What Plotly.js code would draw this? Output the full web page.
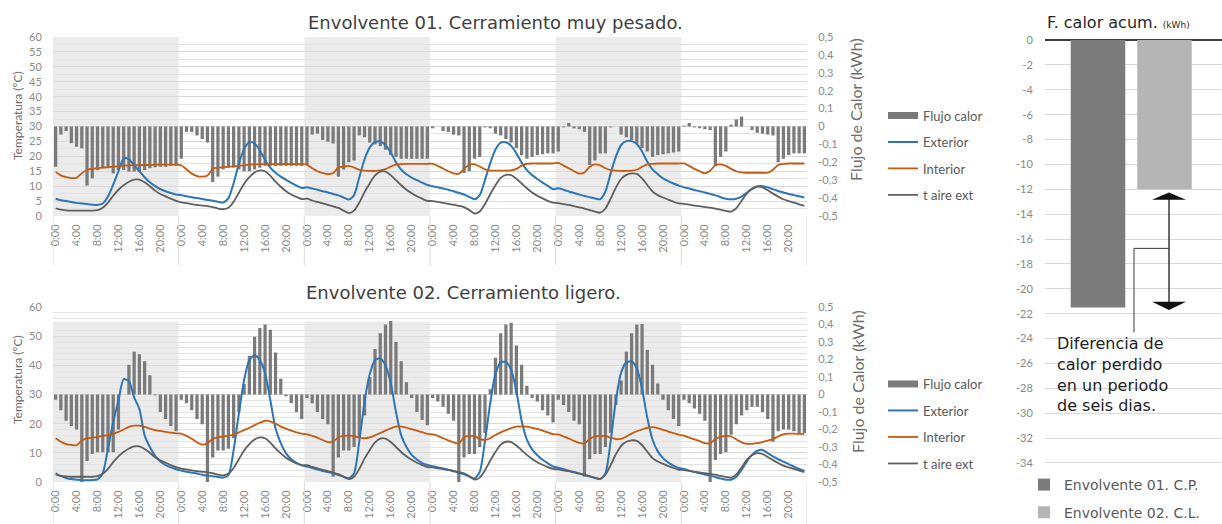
<!DOCTYPE html>
<html>
<head>
<meta charset="utf-8">
<script src="https://cdn.plot.ly/plotly-3.0.1.min.js"></script>
<style>
html,body{margin:0;padding:0;background:#fff;}
#chart{width:1222px;height:524px;}
</style>
</head>
<body>
<div id="chart"></div>
<script>
// ---------------- DATA ----------------
const hours = ["0:00","1:00","2:00","3:00","4:00","5:00","6:00","7:00","8:00","9:00","10:00","11:00",
               "12:00","13:00","14:00","15:00","16:00","17:00","18:00","19:00","20:00","21:00","22:00","23:00"];
const nDays = 6;
const categories = [].concat(hours, hours, hours, hours, hours, hours);

// Envolvente 01 - heat flow (kWh), hourly, 6 days
const flujo01 = [
 -0.225,-0.045,-0.025,-0.093,-0.113,-0.122,-0.33,-0.29,-0.243,-0.233,-0.233,-0.262,-0.243,-0.243,-0.252,-0.252,-0.252,-0.243,-0.233,-0.228,-0.225,-0.225,-0.22,-0.22,
 -0.18,-0.03,-0.03,-0.05,-0.07,-0.09,-0.31,-0.28,-0.24,-0.23,-0.23,-0.24,-0.25,-0.25,-0.24,-0.23,-0.22,-0.22,-0.22,-0.22,-0.22,-0.22,-0.22,-0.22,
 -0.21,-0.045,-0.04,-0.075,-0.085,-0.095,-0.28,-0.24,-0.2,-0.19,-0.05,-0.06,-0.09,-0.10,-0.11,-0.13,-0.16,-0.17,-0.18,-0.18,-0.18,-0.18,-0.18,-0.18,
 -0.01,0.0,-0.025,-0.03,-0.045,-0.05,-0.26,-0.25,-0.18,-0.17,-0.005,-0.01,-0.04,-0.05,-0.07,-0.09,-0.12,-0.16,-0.18,-0.17,-0.16,-0.155,-0.15,-0.15,
 -0.14,-0.005,0.02,-0.01,-0.015,-0.03,-0.215,-0.19,-0.15,-0.15,-0.005,0.0,-0.045,-0.06,-0.075,-0.095,-0.12,-0.14,-0.17,-0.16,-0.155,-0.15,-0.145,-0.14,
 0.005,0.02,-0.005,-0.01,-0.015,-0.02,-0.22,-0.17,-0.14,0.01,0.04,0.055,0.0,-0.02,-0.035,-0.04,-0.045,-0.05,-0.2,-0.18,-0.16,-0.15,-0.15,-0.15
];
const exterior01 = [
 5.8,5.3,5.0,4.7,4.4,4.2,4.0,3.8,3.7,4.2,6.5,10.5,15.0,19.3,19.0,17.0,15.0,13.0,11.3,10.0,9.0,8.3,7.7,7.2,
 7.0,6.6,6.3,6.0,5.7,5.4,5.1,4.8,4.5,6.0,11.0,17.5,22.5,24.7,24.3,22.0,18.8,16.2,14.5,13.2,12.1,11.1,10.2,9.4,
 9.6,9.2,8.8,8.3,7.9,7.4,6.9,6.2,5.5,7.0,13.0,19.0,23.0,24.8,25.0,23.8,21.3,18.0,15.5,14.0,12.9,12.0,11.2,10.4,
 10.0,9.6,9.2,8.8,8.3,7.8,7.2,6.4,5.6,7.0,12.1,17.7,22.3,24.6,24.7,23.5,21.0,17.9,15.4,13.7,12.4,11.2,10.1,9.0,
 9.3,8.8,8.2,7.7,7.2,6.7,6.3,5.9,5.6,8.2,14.3,19.9,23.8,25.1,25.1,24.1,21.6,18.2,15.6,14.0,12.6,11.7,10.9,10.2,
 9.6,9.2,8.7,8.3,7.9,7.4,6.9,6.3,5.8,5.6,5.8,6.5,7.8,9.0,9.9,10.0,9.6,9.0,8.4,7.9,7.4,7.0,6.6,6.2
];
const interior01 = [
 14.8,13.6,13.0,12.7,12.8,14.3,15.5,15.8,16.0,16.2,16.4,16.5,16.7,16.9,17.0,17.0,17.1,17.1,17.1,17.2,17.2,17.2,17.2,17.2,
 17.0,15.6,14.2,13.4,13.2,13.6,15.8,16.2,16.3,16.5,16.7,16.8,17.0,17.2,17.3,17.4,17.4,17.4,17.4,17.4,17.4,17.4,17.4,17.4,
 17.2,16.0,15.0,14.4,14.0,14.4,16.2,16.5,16.8,16.2,15.5,15.2,15.1,15.1,15.3,15.7,16.6,17.2,17.4,17.5,17.5,17.5,17.5,17.5,
 17.5,16.8,15.9,15.0,14.3,14.1,15.8,17.2,17.3,16.6,15.6,15.2,15.2,15.2,15.2,15.3,15.8,16.9,17.5,17.6,17.6,17.6,17.6,17.6,
 17.8,16.9,16.0,15.0,14.2,14.6,16.5,17.3,17.0,16.0,15.4,15.2,15.1,15.1,15.2,15.5,16.5,17.3,17.5,17.6,17.6,17.6,17.6,17.6,
 17.6,16.8,15.8,15.0,14.3,15.2,17.0,17.3,16.8,15.8,15.0,14.6,14.5,14.5,14.5,14.5,14.5,15.5,17.1,17.5,17.6,17.6,17.6,17.6
];
// outdoor air temperature (same in both charts)
const tAireExt = [
 2.6,2.1,1.9,1.8,1.8,1.8,1.8,1.8,2.0,2.8,4.5,6.8,8.8,10.3,11.5,12.2,12.2,11.3,10.0,8.5,7.4,6.6,5.8,5.1,
 4.6,4.3,4.0,3.7,3.5,3.3,3.0,2.5,2.3,2.8,4.8,7.8,10.8,13.0,14.6,15.3,15.0,13.5,11.5,9.8,8.3,7.2,6.4,5.7,
 5.8,5.2,4.7,4.2,3.7,3.2,2.7,1.8,1.0,1.8,4.5,8.0,11.0,13.6,14.9,14.9,13.7,12.0,10.3,8.8,7.6,6.6,5.8,5.1,
 5.0,4.7,4.4,4.1,3.8,3.4,3.0,2.0,0.8,1.5,4.0,7.3,10.3,12.8,13.8,13.7,12.5,10.9,9.3,7.9,6.8,5.9,5.1,4.5,
 4.3,4.0,3.7,3.3,2.9,2.5,2.0,1.5,1.1,2.5,5.8,9.5,12.4,13.8,14.3,14.1,12.6,10.4,8.2,7.0,6.2,5.5,4.8,4.2,
 4.1,3.8,3.5,3.3,3.0,2.8,2.5,2.1,1.7,1.5,2.6,5.0,7.6,9.2,9.9,9.6,8.6,7.5,6.5,5.6,5.0,4.5,3.9,3.4
];

// Envolvente 02
const flujo02 = [
 -0.03,-0.09,-0.15,-0.18,-0.20,-0.50,-0.38,-0.34,-0.33,-0.33,-0.33,-0.33,-0.20,0.0,0.17,0.245,0.23,0.19,0.11,-0.005,-0.10,-0.14,-0.18,-0.21,
 -0.03,-0.05,-0.09,-0.14,-0.17,-0.50,-0.36,-0.32,-0.32,-0.31,-0.25,-0.10,0.06,0.22,0.33,0.38,0.40,0.37,0.24,0.09,-0.01,-0.05,-0.10,-0.14,
 -0.02,-0.05,-0.10,-0.14,-0.17,-0.47,-0.36,-0.32,-0.32,-0.30,-0.25,-0.12,0.10,0.26,0.35,0.40,0.42,0.30,0.19,0.07,-0.02,-0.10,-0.145,-0.175,
 -0.02,-0.04,-0.07,-0.11,-0.15,-0.50,-0.36,-0.34,-0.34,-0.30,-0.22,0.03,0.21,0.35,0.40,0.41,0.28,0.17,0.05,-0.02,-0.04,-0.09,-0.12,-0.16,
 -0.03,-0.06,-0.10,-0.15,-0.17,-0.47,-0.37,-0.34,-0.34,-0.30,-0.22,-0.06,0.08,0.245,0.35,0.40,0.403,0.255,0.17,0.063,-0.03,-0.09,-0.14,-0.18,
 -0.03,-0.05,-0.08,-0.11,-0.15,-0.50,-0.375,-0.34,-0.33,-0.23,-0.17,-0.12,-0.09,-0.07,-0.07,-0.10,-0.14,-0.27,-0.21,-0.20,-0.20,-0.21,-0.22,-0.22
];
const exterior02 = [
 3.0,2.0,1.4,1.0,0.8,0.6,0.6,0.7,0.9,3.0,11.5,20.5,28.0,35.3,34.5,29.0,25.0,16.0,12.0,9.0,7.0,5.8,5.0,4.4,
 3.9,3.5,3.2,2.9,2.5,2.2,2.0,1.7,1.5,2.4,11.0,23.5,35.0,41.8,43.5,41.8,37.3,28.1,18.4,13.3,9.8,7.8,6.6,5.7,
 5.3,4.8,4.3,3.8,3.4,3.0,2.4,1.8,1.3,3.0,14.0,27.5,37.0,41.8,42.4,40.0,34.0,24.0,16.0,12.0,9.3,7.7,6.5,5.8,
 5.4,5.0,4.6,4.2,3.7,3.2,2.6,1.9,1.2,3.5,14.0,27.0,37.0,41.0,41.2,38.5,31.0,21.0,14.5,11.2,9.2,7.6,6.4,5.3,
 4.9,4.4,3.9,3.4,2.9,2.4,1.9,1.4,1.0,3.0,14.0,28.0,37.5,41.0,41.3,39.0,32.0,22.0,14.5,10.5,8.2,6.7,5.6,4.8,
 4.5,3.9,3.4,3.0,2.6,2.2,1.7,1.2,0.8,0.8,1.8,4.1,7.0,9.3,10.7,11.0,9.9,8.8,7.8,7.0,6.1,5.3,4.5,3.8
];
const interior02 = [
 15.0,13.8,13.0,12.7,12.6,14.2,15.0,15.2,15.5,15.8,16.1,16.5,17.2,18.0,18.9,19.3,19.3,18.9,18.3,17.8,17.5,17.2,16.9,16.7,
 16.6,15.8,14.8,13.6,12.8,13.3,14.8,15.3,15.6,15.9,16.2,17.0,17.8,18.6,19.5,20.3,21.0,20.8,20.0,19.0,18.3,17.6,17.0,16.6,
 16.3,15.8,15.2,14.4,13.7,13.9,15.3,15.8,15.9,15.7,15.2,15.0,15.3,16.0,16.8,17.6,18.4,19.0,19.0,18.6,18.1,17.6,17.1,16.5,
 16.3,15.8,15.0,14.3,13.6,13.2,15.3,15.8,15.7,14.8,14.4,15.0,16.1,17.0,17.8,18.5,19.0,19.0,19.0,18.6,18.2,17.6,17.0,16.4,
 16.3,15.6,14.9,14.1,13.4,13.2,14.8,15.6,15.8,15.8,15.2,14.7,14.8,15.6,16.6,17.4,18.0,18.6,18.8,18.5,17.9,17.3,16.8,16.2,
 15.9,15.2,14.6,14.0,13.3,13.3,14.8,15.5,15.8,15.6,14.6,13.6,13.1,13.1,13.3,13.7,14.2,14.7,15.6,16.3,16.6,16.6,16.5,16.4
];

// accumulated heat flow (kWh)
const acumCategories = ["Envolvente 01. C.P.", "Envolvente 02. C.L."];
const acumValues = [-21.5, -12];

// tick values
const tempTicks01 = [0,5,10,15,20,25,30,35,40,45,50,55,60];
const tempTicks02 = [0,10,20,30,40,50,60];
const fluxTicks = [0.5,0.4,0.3,0.2,0.1,0,-0.1,-0.2,-0.3,-0.4,-0.5];
const acumTicks = [0,-2,-4,-6,-8,-10,-12,-14,-16,-18,-20,-22,-24,-26,-28,-30,-32,-34];

// ---------------- DERIVED ----------------
const xIdx = categories.map((c, i) => i);
const tickIdx = xIdx.filter(i => i % 4 === 0);
const tickText = tickIdx.map(i => categories[i]);
const fluxText = fluxTicks.map(v => v === 0 ? '0' : v.toFixed(1).replace('.', ','));
const acumText = acumTicks.map(v => String(v));

const W = 1222, H = 524;
const px = v => v / W;           // horizontal pixel -> paper
const py = v => 1 - v / H;       // vertical pixel -> paper

const COL_BAR = '#7a7a7a', COL_EXT = '#2e75b6', COL_INT = '#c55a11', COL_AIR = '#5f5f5f';
const TICKFONT = {family: 'Lato, sans-serif', size: 11, color: '#8a8a8a'};
const LEGFONT = {family: 'Lato, sans-serif', size: 13, color: '#595959'};

function chartTraces(flujo, ext, inter, xa, yFlux, yTemp, leg, g) {
  return [
    {type: 'bar', x: xIdx, y: flujo, xaxis: xa, yaxis: yFlux, width: 0.62,
     marker: {color: COL_BAR, line: {width: 0}}, name: 'Flujo calor', showlegend: false, legend: leg},
    {type: 'scatter', mode: 'lines', x: [null], y: [null], xaxis: xa, yaxis: yTemp,
     line: {color: COL_BAR, width: 7}, name: 'Flujo calor', legend: leg, legendgroup: g + 'a'},
    {type: 'scatter', mode: 'lines', x: xIdx, y: ext, xaxis: xa, yaxis: yTemp,
     line: {color: COL_EXT, width: 2, shape: 'spline', smoothing: 0.7}, name: 'Exterior', legend: leg, legendgroup: g + 'b'},
    {type: 'scatter', mode: 'lines', x: xIdx, y: inter, xaxis: xa, yaxis: yTemp,
     line: {color: COL_INT, width: 1.8, shape: 'spline', smoothing: 0.7}, name: 'Interior', legend: leg, legendgroup: g + 'c'},
    {type: 'scatter', mode: 'lines', x: xIdx, y: tAireExt, xaxis: xa, yaxis: yTemp,
     line: {color: COL_AIR, width: 1.8, shape: 'spline', smoothing: 0.7}, name: 't aire ext', legend: leg, legendgroup: g + 'd'}
  ];
}

const traces = [].concat(
  chartTraces(flujo01, exterior01, interior01, 'x', 'y', 'y2', 'legend', 't'),
  chartTraces(flujo02, exterior02, interior02, 'x2', 'y3', 'y4', 'legend2', 'b'),
  [
    {type: 'bar', x: [acumCategories[0]], y: [acumValues[0]], xaxis: 'x3', yaxis: 'y5', width: 0.82,
     marker: {color: '#7b7b7b', line: {width: 0}}, name: acumCategories[0], legend: 'legend3', legendgroup: 'r1'},
    {type: 'bar', x: [acumCategories[1]], y: [acumValues[1]], xaxis: 'x3', yaxis: 'y5', width: 0.82,
     marker: {color: '#b5b5b5', line: {width: 0}}, name: acumCategories[1], legend: 'legend3', legendgroup: 'r2'}
  ]
);

const xDomain = [px(53), px(807)];
const topDomain = [py(216), py(37)];
const botDomain = [py(482), py(307)];

function xAxis(anchor) {
  return {domain: xDomain, anchor: anchor, range: [-0.5, nDays * 24 - 0.5],
    tickvals: tickIdx, ticktext: tickText, tickangle: -90, tickfont: TICKFONT,
    ticks: 'outside', ticklen: 3, tickcolor: 'rgba(0,0,0,0)',
    showgrid: false, zeroline: false, showline: false, fixedrange: true, automargin: false};
}
function fluxAxis(anchor, domain) {
  return {domain: domain, anchor: anchor, side: 'right', range: [-0.5, 0.5],
    tickvals: fluxTicks, ticktext: fluxText, tickfont: TICKFONT,
    ticks: 'outside', ticklen: 8, tickcolor: 'rgba(0,0,0,0)',
    showgrid: false, zeroline: false, showline: false, automargin: false};
}
function tempAxis(anchor, overlay, ticks, minorStep) {
  return {overlaying: overlay, anchor: anchor, side: 'left', range: [0, 60],
    tickvals: ticks, tickfont: TICKFONT,
    ticks: 'outside', ticklen: 8, tickcolor: 'rgba(0,0,0,0)',
    showgrid: true, gridcolor: '#d9d9d9', gridwidth: 1,
    minor: {dtick: minorStep, showgrid: true, gridcolor: '#e2e2e2', gridwidth: 1, ticks: ''},
    zeroline: false, showline: false, automargin: false};
}

// shapes: day bands, separators in label area, arrow
const shapes = [];
for (let d = 0; d < nDays; d += 2) {
  shapes.push({type: 'rect', xref: 'x', yref: 'y2', x0: d * 24 - 0.5, x1: d * 24 + 23.5, y0: 0, y1: 60,
    fillcolor: '#ebebeb', line: {width: 0}, layer: 'below'});
  shapes.push({type: 'rect', xref: 'x2', yref: 'y4', x0: d * 24 - 0.5, x1: d * 24 + 23.5, y0: 0, y1: 55,
    fillcolor: '#ebebeb', line: {width: 0}, layer: 'below'});
}
for (let d = 0; d <= nDays; d++) {
  shapes.push({type: 'line', xref: 'x', yref: 'paper', x0: d * 24 - 0.5, x1: d * 24 - 0.5,
    y0: py(265), y1: py(216), line: {color: '#d9d9d9', width: 1}});
  shapes.push({type: 'line', xref: 'x2', yref: 'paper', x0: d * 24 - 0.5, x1: d * 24 - 0.5,
    y0: py(524), y1: py(482), line: {color: '#d9d9d9', width: 1}});
}
const ax = px(1169), hw = px(17), lx = px(1134);
const vHigh = acumValues[1], vLow = acumValues[0];
const vMid = (vHigh + vLow) / 2;
shapes.push({type: 'line', xref: 'paper', yref: 'y5', x0: ax, x1: ax, y0: vHigh - 0.5, y1: vLow + 0.3,
  line: {color: '#1a1a1a', width: 1.3}});
shapes.push({type: 'path', xref: 'paper', yref: 'y5',
  path: `M ${ax},${vHigh - 0.25} L ${ax + hw},${vHigh - 0.85} L ${ax - hw},${vHigh - 0.85} Z`,
  fillcolor: '#111', line: {width: 0}});
shapes.push({type: 'path', xref: 'paper', yref: 'y5',
  path: `M ${ax},${vLow - 0.2} L ${ax + hw},${vLow + 0.45} L ${ax - hw},${vLow + 0.45} Z`,
  fillcolor: '#111', line: {width: 0}});
shapes.push({type: 'line', xref: 'paper', yref: 'y5', x0: lx, x1: ax, y0: vMid, y1: vMid,
  line: {color: '#3a3a3a', width: 1}});
shapes.push({type: 'line', xref: 'paper', yref: 'y5', x0: lx, x1: lx, y0: vMid, y1: -23.5,
  line: {color: '#3a3a3a', width: 1}});

const TITLEFONT = {family: 'DejaVu Sans, sans-serif', size: 18, color: '#404040'};
const annotations = [
  {text: 'Envolvente 01. Cerramiento muy pesado.', xref: 'paper', yref: 'paper', x: px(495), y: py(23),
   xanchor: 'center', yanchor: 'middle', showarrow: false, font: TITLEFONT},
  {text: 'Envolvente 02. Cerramiento ligero.', xref: 'paper', yref: 'paper', x: px(463), y: py(292),
   xanchor: 'center', yanchor: 'middle', showarrow: false, font: TITLEFONT},
  {text: 'F. calor acum. <span style="font-size:9px">(kWh)</span>', xref: 'paper', yref: 'paper', x: px(1045), y: py(22),
   xanchor: 'left', yanchor: 'middle', showarrow: false, font: {family: 'DejaVu Sans, sans-serif', size: 16, color: '#262626'}},
  {text: 'Temperatura (ºC)', xref: 'paper', yref: 'paper', x: px(17), y: py(116), textangle: -90,
   xanchor: 'center', yanchor: 'middle', showarrow: false, font: {family: 'Lato, sans-serif', size: 12, color: '#6d6d6d'}},
  {text: 'Temperatura (ºC)', xref: 'paper', yref: 'paper', x: px(17), y: py(380), textangle: -90,
   xanchor: 'center', yanchor: 'middle', showarrow: false, font: {family: 'Lato, sans-serif', size: 12, color: '#6d6d6d'}},
  {text: 'Flujo de Calor (kWh)', xref: 'paper', yref: 'paper', x: px(856), y: py(110), textangle: -90,
   xanchor: 'center', yanchor: 'middle', showarrow: false, font: {family: 'Lato, sans-serif', size: 16, color: '#6d6d6d'}},
  {text: 'Flujo de Calor (kWh)', xref: 'paper', yref: 'paper', x: px(857), y: py(382), textangle: -90,
   xanchor: 'center', yanchor: 'middle', showarrow: false, font: {family: 'Lato, sans-serif', size: 16, color: '#6d6d6d'}},
  {text: 'Diferencia de<br>calor perdido<br>en un periodo<br>de seis dias.', xref: 'paper', yref: 'paper',
   x: px(1055), y: py(374), xanchor: 'left', yanchor: 'middle', align: 'left', showarrow: false,
   font: {family: 'DejaVu Sans, sans-serif', size: 16, color: '#222'}}
];

const legendBase = {xanchor: 'left', yanchor: 'top', bgcolor: 'rgba(0,0,0,0)', borderwidth: 0,
  font: LEGFONT, traceorder: 'grouped', tracegroupgap: 6.6, itemwidth: 30};

const layout = {
  width: W, height: H, margin: {l: 0, r: 0, t: 0, b: 0, pad: 0, autoexpand: false},
  paper_bgcolor: '#ffffff', plot_bgcolor: 'rgba(0,0,0,0)',
  font: {family: 'Lato, sans-serif', color: '#7f7f7f'},
  barmode: 'overlay', showlegend: true,
  xaxis: xAxis('y'),
  yaxis: fluxAxis('x', topDomain),
  yaxis2: tempAxis('x', 'y', tempTicks01, 2.5),
  xaxis2: xAxis('y3'),
  yaxis3: fluxAxis('x2', botDomain),
  yaxis4: tempAxis('x2', 'y3', tempTicks02, 2),
  xaxis3: {domain: [px(1045), 1], anchor: 'y5', type: 'category', categoryarray: acumCategories,
    range: [-0.797, 1.865], showticklabels: false, ticks: '', showgrid: false, zeroline: false, showline: false},
  yaxis5: {domain: [py(475.4), py(36.9)], anchor: 'x3', range: [-35, 0.25],
    tickvals: acumTicks, ticktext: acumText, tickfont: TICKFONT,
    ticks: 'outside', ticklen: 9, tickcolor: 'rgba(0,0,0,0)', automargin: false,
    showgrid: true, gridcolor: '#d9d9d9', zeroline: true, zerolinecolor: '#3f3f3f', zerolinewidth: 2, showline: false},
  legend: Object.assign({}, legendBase, {x: px(883), y: py(100.5)}),
  legend2: Object.assign({}, legendBase, {x: px(883), y: py(369)}),
  legend3: Object.assign({}, legendBase, {x: px(1024), y: py(469), tracegroupgap: 6.5,
    font: {family: 'DejaVu Sans, sans-serif', size: 14, color: '#595959'}}),
  shapes: shapes,
  annotations: annotations
};

Plotly.newPlot('chart', traces, layout, {staticPlot: true, displayModeBar: false});
</script>
</body>
</html>
